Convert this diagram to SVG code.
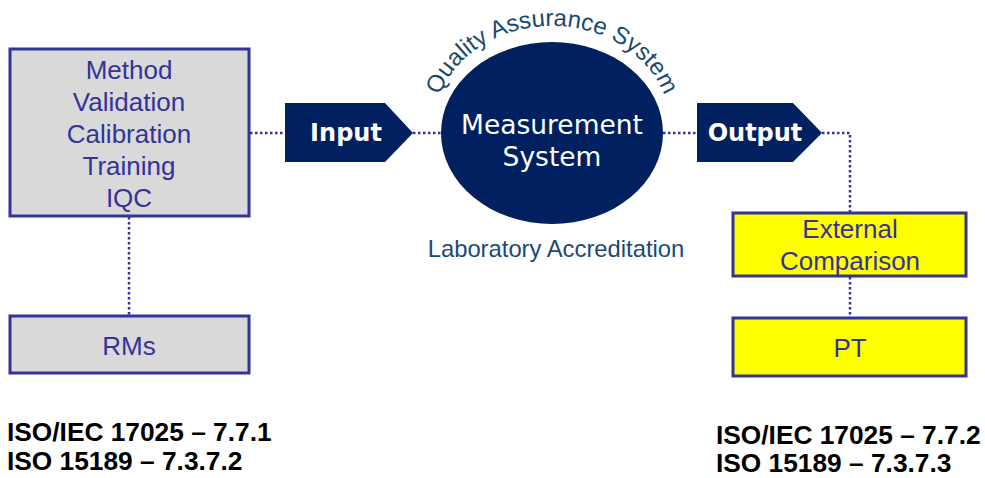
<svg xmlns="http://www.w3.org/2000/svg" width="985" height="478" viewBox="0 0 985 478">
  <style>
    .box-grey { fill: #d9d9d9; stroke: #333399; stroke-width: 3; }
    .box-yellow { fill: #ffff00; stroke: #333399; stroke-width: 3; }
    .box-text { font-family: "Liberation Sans", Arial, sans-serif; font-size: 26px; fill: #333399; text-anchor: middle; }
    .navy { fill: #002060; }
    .arrow-text { font-family: "DejaVu Sans", Verdana, sans-serif; font-weight: bold; font-size: 24px; fill: #ffffff; text-anchor: middle; }
    .core-text { font-family: "DejaVu Sans", Verdana, sans-serif; font-size: 26.5px; fill: #ffffff; text-anchor: middle; }
    .qa-text { font-family: "Liberation Sans", Arial, sans-serif; font-size: 24px; fill: #174a6e; }
    .accr-text { font-family: "Liberation Sans", Arial, sans-serif; font-size: 23.8px; fill: #1b4a72; text-anchor: middle; }
    .std-text { font-family: "Liberation Sans", Arial, sans-serif; font-weight: bold; font-size: 26.3px; fill: #000000; }
    .dots { fill: none; stroke: #333399; stroke-width: 2.5; stroke-dasharray: 2.5 2.5; }
  </style>
  <defs>
    <!-- elliptical baseline for the arched caption above the ellipse -->
    <path id="qa-arc" d="M 434,126 A 118,100 0 0 1 670,126"/>
  </defs>

  <rect width="985" height="478" fill="#ffffff"/>

  <!-- dotted connectors -->
  <g id="connectors">
    <line class="dots" x1="250" y1="133" x2="285" y2="133"/>
    <line class="dots" x1="413" y1="133" x2="442" y2="133"/>
    <line class="dots" x1="663" y1="133" x2="697" y2="133"/>
    <polyline class="dots" points="822,133 850,133 850,212"/>
    <line class="dots" x1="129" y1="217" x2="129" y2="315"/>
    <line class="dots" x1="850" y1="277" x2="850" y2="317"/>
  </g>

  <g id="inputs-box">
    <rect class="box-grey" x="10" y="49" width="239" height="167"/>
    <text class="box-text" x="129" y="79">Method</text>
    <text class="box-text" x="129" y="111">Validation</text>
    <text class="box-text" x="129" y="143">Calibration</text>
    <text class="box-text" x="129" y="175">Training</text>
    <text class="box-text" x="129" y="207">IQC</text>
  </g>

  <g id="rms-box">
    <rect class="box-grey" x="10" y="316" width="239" height="57"/>
    <text class="box-text" x="129" y="355">RMs</text>
  </g>

  <g id="input-arrow">
    <polygon class="navy" points="285,103 385,103 413,133 385,162 285,162"/>
    <text class="arrow-text" x="346" y="141">Input</text>
  </g>

  <g id="measurement-system">
    <ellipse class="navy" cx="552" cy="133" rx="111" ry="91"/>
    <text class="core-text" x="552" y="134">Measurement</text>
    <text class="core-text" x="552" y="166">System</text>
  </g>

  <g id="quality-assurance">
    <text class="qa-text"><textPath href="#qa-arc" startOffset="50%" text-anchor="middle">Quality Assurance System</textPath></text>
  </g>

  <g id="accreditation">
    <text class="accr-text" x="556" y="257">Laboratory Accreditation</text>
  </g>

  <g id="output-arrow">
    <polygon class="navy" points="697,103 793,103 822,133 793,162 697,162"/>
    <text class="arrow-text" x="755" y="141">Output</text>
  </g>

  <g id="external-box">
    <rect class="box-yellow" x="733" y="213" width="233" height="63"/>
    <text class="box-text" x="850" y="238">External</text>
    <text class="box-text" x="850" y="270">Comparison</text>
  </g>

  <g id="pt-box">
    <rect class="box-yellow" x="733" y="318" width="233" height="58"/>
    <text class="box-text" x="850" y="357">PT</text>
  </g>

  <g id="standards-left">
    <text class="std-text" x="7" y="441">ISO/IEC 17025 – 7.7.1</text>
    <text class="std-text" x="7" y="470">ISO 15189 – 7.3.7.2</text>
  </g>

  <g id="standards-right">
    <text class="std-text" x="716" y="444">ISO/IEC 17025 – 7.7.2</text>
    <text class="std-text" x="716" y="472">ISO 15189 – 7.3.7.3</text>
  </g>
</svg>
